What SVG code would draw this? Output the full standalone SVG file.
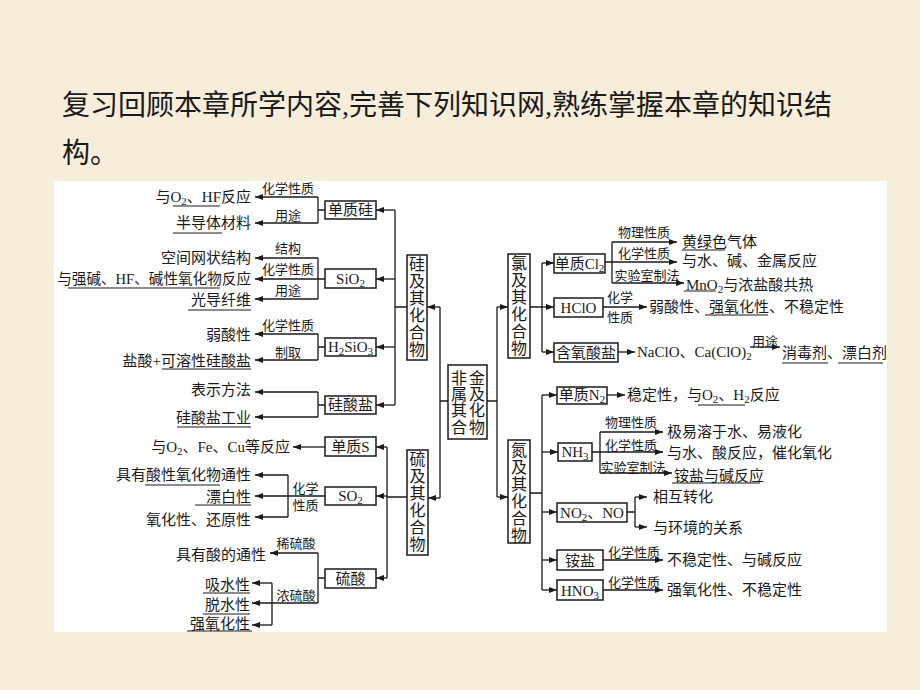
<svg xmlns="http://www.w3.org/2000/svg" width="920" height="690" viewBox="0 0 920 690">
<defs>
<marker id="a" viewBox="0 0 8 6" refX="8" refY="3" markerWidth="8" markerHeight="6" orient="auto" markerUnits="userSpaceOnUse"><path d="M0,0 L8,3 L0,6 z" fill="#1a1a1a"/></marker>
<style>
text{font-family:"Liberation Serif","Noto Sans CJK SC",serif;fill:#1a1a1a}
.t{font-size:15px}
.e{font-size:15px;text-anchor:end}
.l{font-size:13px;text-anchor:middle}
.b{font-size:15px;text-anchor:middle}
.v{font-size:16px;text-anchor:middle}
.h{font-size:28px}
rect.n{fill:#fff;stroke:#1a1a1a;stroke-width:1.5}
#conn path{fill:none;stroke:#1a1a1a;stroke-width:1.3}
#conn .ar{marker-end:url(#a)}
.u{stroke:#1a1a1a;stroke-width:1.2;fill:none}
</style>
</defs>
<rect width="920" height="690" fill="#f6eddb"/>
<text class="h" x="62" y="115">复习回顾本章所学内容,完善下列知识网,熟练掌握本章的知识结</text>
<text class="h" x="62" y="163">构。</text>
<rect x="54" y="181" width="833" height="451" fill="#fff"/>

<g id="conn">
<!-- silicon -->
<path d="M318,197 V223 M325,210 H318"/>
<path class="ar" d="M318,197 H255"/><path class="ar" d="M318,223 H255"/>
<path d="M318,258 V299"/>
<path class="ar" d="M318,258 H255"/><path class="ar" d="M325,279 H255"/><path class="ar" d="M318,299 H255"/>
<path d="M318,334 V360 M325,347 H318"/>
<path class="ar" d="M318,334 H255"/><path class="ar" d="M318,360 H255"/>
<path d="M318,392 V417 M325,405 H318"/>
<path class="ar" d="M318,392 H255"/><path class="ar" d="M318,417 H255"/>
<path d="M395,210 V405 M407,307 H395"/>
<path class="ar" d="M395,210 H376"/><path class="ar" d="M395,279 H376"/><path class="ar" d="M395,347 H376"/><path class="ar" d="M395,405 H376"/>
<!-- sulfur -->
<path class="ar" d="M325,447 H293"/>
<path d="M325,496 H288 M288,475 V517"/>
<path class="ar" d="M288,475 H255"/><path class="ar" d="M288,496 H255"/><path class="ar" d="M288,517 H255"/>
<path d="M325,578 H318 M318,553 V603 M272,583 V625"/>
<path class="ar" d="M318,553 H270"/>
<path class="ar" d="M318,603 H252"/><path class="ar" d="M272,583 H252"/><path class="ar" d="M272,625 H252"/>
<path d="M387,447 V578 M407,497 H387"/>
<path class="ar" d="M387,447 H376"/><path class="ar" d="M387,496 H376"/><path class="ar" d="M387,578 H376"/>
<!-- centre -->
<path d="M448,401 H440 M440,307 V498"/>
<path class="ar" d="M440,307 H427"/><path class="ar" d="M440,498 H428"/>
<path d="M487,401 H497 M497,307 V497"/>
<path class="ar" d="M497,307 H508"/><path class="ar" d="M497,497 H508"/>
<!-- chlorine -->
<path d="M530,307 H542 M542,263 V352"/>
<path class="ar" d="M542,263 H554"/><path class="ar" d="M542,307 H554"/><path class="ar" d="M542,352 H554"/>
<path d="M612,242 V283"/>
<path class="ar" d="M612,242 H677"/><path class="ar" d="M605,262 H677"/><path class="ar" d="M612,283 H684"/>
<path class="ar" d="M603,307 H647"/>
<path class="ar" d="M618,352 H635"/>
<path class="ar" d="M750,347 H780"/>
<!-- nitrogen -->
<path d="M530,493 H542 M542,395 V590"/>
<path class="ar" d="M542,395 H557"/><path class="ar" d="M542,452 H558"/><path class="ar" d="M542,512 H557"/><path class="ar" d="M542,560 H557"/><path class="ar" d="M542,590 H557"/>
<path class="ar" d="M607,395 H625"/>
<path d="M600,432 V473"/>
<path class="ar" d="M600,432 H663"/><path class="ar" d="M592,452 H663"/><path class="ar" d="M600,473 H672"/>
<path d="M627,512 H635 M635,497 V527"/>
<path class="ar" d="M635,497 H647"/><path class="ar" d="M635,527 H647"/>
<path class="ar" d="M603,560 H663"/>
<path class="ar" d="M603,590 H663"/>
</g>

<g id="n-si-elem"><rect class="n" x="325" y="201" width="51" height="18"/><text class="b" x="350.5" y="215">单质硅</text></g>
<g id="n-sio2"><rect class="n" x="325" y="269" width="51" height="19"/><text class="b" x="350.5" y="284">SiO<tspan font-size="11" dy="3">2</tspan></text></g>
<g id="n-h2sio3"><rect class="n" x="325" y="338" width="51" height="18"/><text class="b" x="350.5" y="352">H<tspan font-size="11" dy="3">2</tspan><tspan dy="-3">SiO</tspan><tspan font-size="11" dy="3">3</tspan></text></g>
<g id="n-silicate"><rect class="n" x="325" y="396" width="51" height="18"/><text class="b" x="350.5" y="410">硅酸盐</text></g>
<g id="n-si"><rect class="n" x="407" y="255" width="20" height="105"/><text class="v" x="417"><tspan x="417" y="270">硅</tspan><tspan x="417" y="287">及</tspan><tspan x="417" y="304">其</tspan><tspan x="417" y="321">化</tspan><tspan x="417" y="338">合</tspan><tspan x="417" y="355">物</tspan></text></g>
<g id="n-s-elem"><rect class="n" x="325" y="437" width="51" height="19"/><text class="b" x="350.5" y="452">单质S</text></g>
<g id="n-so2"><rect class="n" x="325" y="487" width="51" height="18"/><text class="b" x="350.5" y="501">SO<tspan font-size="11" dy="3">2</tspan></text></g>
<g id="n-h2so4"><rect class="n" x="325" y="569" width="51" height="19"/><text class="b" x="350.5" y="584">硫酸</text></g>
<g id="n-s"><rect class="n" x="407" y="450" width="21" height="105"/><text class="v"><tspan x="417.5" y="465">硫</tspan><tspan x="417.5" y="482">及</tspan><tspan x="417.5" y="499">其</tspan><tspan x="417.5" y="516">化</tspan><tspan x="417.5" y="533">合</tspan><tspan x="417.5" y="550">物</tspan></text></g>
<g id="n-center"><rect class="n" x="448" y="365" width="39" height="74"/><text class="v"><tspan x="459" y="384">非</tspan><tspan x="477" y="384">金</tspan><tspan x="459" y="400">属</tspan><tspan x="477" y="400">及</tspan><tspan x="459" y="416">其</tspan><tspan x="477" y="416">化</tspan><tspan x="459" y="433">合</tspan><tspan x="477" y="433">物</tspan></text></g>
<g id="n-cl"><rect class="n" x="508" y="254" width="22" height="104"/><text class="v"><tspan x="519" y="269">氯</tspan><tspan x="519" y="286">及</tspan><tspan x="519" y="303">其</tspan><tspan x="519" y="320">化</tspan><tspan x="519" y="337">合</tspan><tspan x="519" y="354">物</tspan></text></g>
<g id="n-cl2"><rect class="n" x="554" y="254" width="51" height="19"/><text class="b" x="579.5" y="269">单质Cl<tspan font-size="11" dy="3">2</tspan></text></g>
<g id="n-hclo"><rect class="n" x="554" y="298" width="49" height="19"/><text class="b" x="578.5" y="313">HClO</text></g>
<g id="n-hypo"><rect class="n" x="554" y="343" width="64" height="19"/><text class="b" x="586" y="358">含氧酸盐</text></g>
<g id="n-n"><rect class="n" x="508" y="440" width="22" height="103"/><text class="v"><tspan x="519" y="456">氮</tspan><tspan x="519" y="473">及</tspan><tspan x="519" y="490">其</tspan><tspan x="519" y="507">化</tspan><tspan x="519" y="524">合</tspan><tspan x="519" y="541">物</tspan></text></g>
<g id="n-n2"><rect class="n" x="557" y="387" width="50" height="17"/><text class="b" x="582" y="400">单质N<tspan font-size="11" dy="3">2</tspan></text></g>
<g id="n-nh3"><rect class="n" x="558" y="443" width="34" height="18"/><text class="b" x="575" y="457">NH<tspan font-size="11" dy="3">3</tspan></text></g>
<g id="n-nox"><rect class="n" x="557" y="503" width="70" height="19"/><text class="b" x="592" y="518">NO<tspan font-size="11" dy="3">2</tspan><tspan dy="-3">、NO</tspan></text></g>
<g id="n-ammonium"><rect class="n" x="557" y="550" width="46" height="20"/><text class="b" x="580" y="566">铵盐</text></g>
<g id="n-hno3"><rect class="n" x="557" y="580" width="46" height="20"/><text class="b" x="580" y="596">HNO<tspan font-size="11" dy="3">3</tspan></text></g>

<g id="labels">
<text class="l" x="288" y="193">化学性质</text>
<text class="l" x="288" y="220">用途</text>
<text class="l" x="288" y="253">结构</text>
<text class="l" x="288" y="274">化学性质</text>
<text class="l" x="288" y="295">用途</text>
<text class="l" x="288" y="330">化学性质</text>
<text class="l" x="288" y="357">制取</text>
<text class="l" x="305.5" y="493">化学</text>
<text class="l" x="305.5" y="510">性质</text>
<text class="l" x="296" y="548">稀硫酸</text>
<text class="l" x="296" y="600">浓硫酸</text>
<text class="l" x="644" y="237">物理性质</text>
<text class="l" x="644" y="258">化学性质</text>
<text class="l" x="647" y="280">实验室制法</text>
<text class="l" x="620" y="302">化学</text>
<text class="l" x="620" y="322">性质</text>
<text class="l" x="765" y="346">用途</text>
<text class="l" x="631" y="427">物理性质</text>
<text class="l" x="631" y="450">化学性质</text>
<text class="l" x="633" y="472">实验室制法</text>
<text class="l" x="634" y="557">化学性质</text>
<text class="l" x="634" y="587">化学性质</text>
</g>

<g id="texts">
<text class="e" x="251" y="202">与O<tspan font-size="11" dy="3">2</tspan><tspan dy="-3">、HF反应</tspan></text>
<text class="e" x="251" y="228">半导体材料</text>
<text class="e" x="251" y="263">空间网状结构</text>
<text class="e" x="251" y="284" style="font-size:14.6px">与强碱、HF、碱性氧化物反应</text>
<text class="e" x="251" y="305">光导纤维</text>
<text class="e" x="251" y="340">弱酸性</text>
<text class="e" x="251" y="366">盐酸+可溶性硅酸盐</text>
<text class="e" x="251" y="395">表示方法</text>
<text class="e" x="251" y="423">硅酸盐工业</text>
<text class="e" x="290" y="452">与O<tspan font-size="11" dy="3">2</tspan><tspan dy="-3">、Fe、Cu等反应</tspan></text>
<text class="e" x="251" y="480">具有酸性氧化物通性</text>
<text class="e" x="251" y="502">漂白性</text>
<text class="e" x="251" y="525">氧化性、还原性</text>
<text class="e" x="266" y="560">具有酸的通性</text>
<text class="e" x="250" y="590">吸水性</text>
<text class="e" x="250" y="610">脱水性</text>
<text class="e" x="250" y="629">强氧化性</text>
<text class="t" x="682" y="247">黄绿色气体</text>
<text class="t" x="682" y="266">与水、碱、金属反应</text>
<text class="t" x="686" y="290">MnO<tspan font-size="11" dy="3">2</tspan><tspan dy="-3">与浓盐酸共热</tspan></text>
<text class="t" x="649" y="312">弱酸性、强氧化性、不稳定性</text>
<text class="t" x="637" y="357">NaClO、Ca(ClO)<tspan font-size="11" dy="3">2</tspan></text>
<text class="t" x="782" y="358">消毒剂、漂白剂</text>
<text class="t" x="627" y="400">稳定性，与O<tspan font-size="11" dy="3">2</tspan><tspan dy="-3">、H</tspan><tspan font-size="11" dy="3">2</tspan><tspan dy="-3">反应</tspan></text>
<text class="t" x="667" y="437">极易溶于水、易液化</text>
<text class="t" x="667" y="458">与水、酸反应，催化氧化</text>
<text class="t" x="674" y="481">铵盐与碱反应</text>
<text class="t" x="653" y="502">相互转化</text>
<text class="t" x="653" y="533">与环境的关系</text>
<text class="t" x="667" y="565">不稳定性、与碱反应</text>
<text class="t" x="667" y="595">强氧化性、不稳定性</text>
</g>

<g id="underlines">
<path class="u" d="M173,206 H220 M173,233 H222 M68,288 H220 M188,310 H251 M162,369 H251 M177,427 H251 M145,485 H220 M195,505 H251 M203,593 H250 M203,614 H250 M187,631 H252 M682,250 H725 M684,291 H716 M705,315 H768 M782,363 H828 M838,363 H883 M698,405 H745 M672,483 H760"/>
</g>
</svg>
